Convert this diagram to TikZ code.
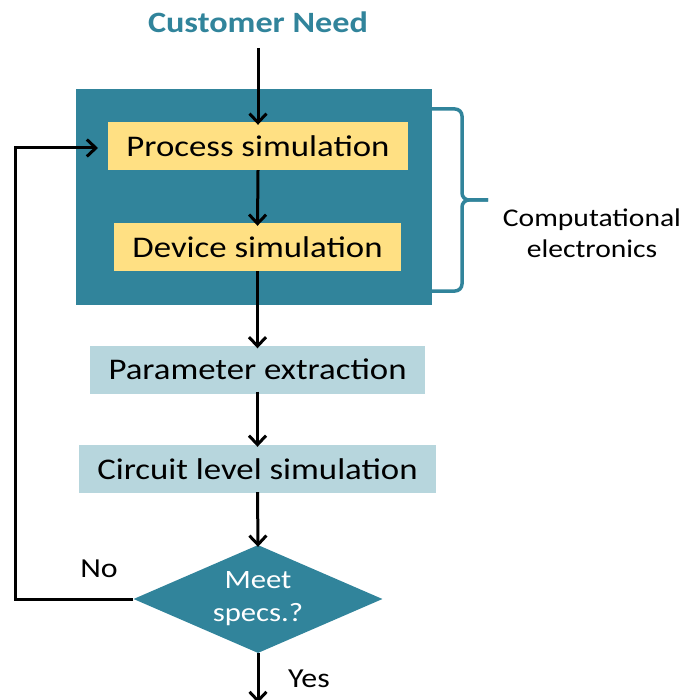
\documentclass[tikz,border=0pt]{standalone}
\usepackage{fontspec}
\setmainfont[FakeStretch=1.16]{Carlito}
\usetikzlibrary{arrows.meta,shapes.geometric}
\definecolor{teal1}{HTML}{31849B}
\definecolor{yel}{HTML}{FFE083}
\definecolor{lblue}{HTML}{B7D6DD}
\begin{document}
\begin{tikzpicture}[x=1pt,y=-1pt,
  arr/.style={line width=3pt,-{Straight Barb[length=9pt,width=17pt]}},
  ybox/.style={fill=yel,inner sep=0pt,minimum height=48pt,font=\fontsize{30}{36}\selectfont},
  bbox/.style={fill=lblue,inner sep=0pt,minimum height=48pt,font=\fontsize{30}{36}\selectfont},
  lbl/.style={inner sep=0pt,font=\fontsize{27.5}{33}\selectfont}]
\useasboundingbox (0,0) rectangle (686,700);
\node[font=\bfseries\fontsize{29.5}{35}\selectfont,text=teal1,inner sep=0pt] (cust) at (258,22) {Customer Need};
\node[fill=teal1,minimum width=356pt,minimum height=216pt,inner sep=0pt] (outer) at (254,197) {};
\node[ybox,minimum width=300pt] (proc) at (258,146) {Process simulation};
\node[ybox,minimum width=287pt] (dev) at (257.5,247) {Device simulation};
\node[bbox,minimum width=335pt] (param) at (257.5,369.5) {Parameter extraction};
\node[bbox,minimum width=357pt] (circ) at (257.5,469) {Circuit level simulation};
\node[diamond,fill=teal1,minimum width=249pt,minimum height=108pt,inner sep=0pt] (dec) at (258,599) {};
\node[text=white,align=center,inner sep=0pt,font=\fontsize{26.5}{33}\selectfont] (dectext) at (dec.center) {Meet\\specs.?};
\node[align=center,inner sep=0pt,font=\fontsize{25.5}{31}\selectfont] (comp) at (592,233) {Computational\\electronics};
\node[lbl] (no) at (99,569) {No};
\node[lbl] (yes) at (309,679) {Yes};
\coordinate (cs) at (258,48);
\coordinate (bot) at (258,703);
\coordinate (lb) at (15,599);
\coordinate (lt) at (15,148);
\coordinate (pin) at (98,148);
\draw[arr] (cs) -- ([yshift=-3pt]proc.north);
\draw[arr] (proc.south) -- ([yshift=-3pt]dev.north);
\draw[arr] (dev.south) -- ([yshift=-3pt]param.north);
\draw[arr] ([yshift=2pt]param.south) -- ([yshift=-2pt]circ.north);
\draw[arr] ([yshift=1pt]circ.south) -- ([yshift=-2pt]dec.north);
\draw[arr] (dec.south) -- (bot);
\draw[arr] (dec.west) -- (lb) -- (lt) -- (pin);
\draw[teal1,line width=3.5pt,rounded corners=7pt] (432,109) -- (462,109) -- (462,200) -- (488,200);
\draw[teal1,line width=3.5pt,rounded corners=7pt] (432,291) -- (462,291) -- (462,200) -- (488,200);
\end{tikzpicture}
\end{document}
